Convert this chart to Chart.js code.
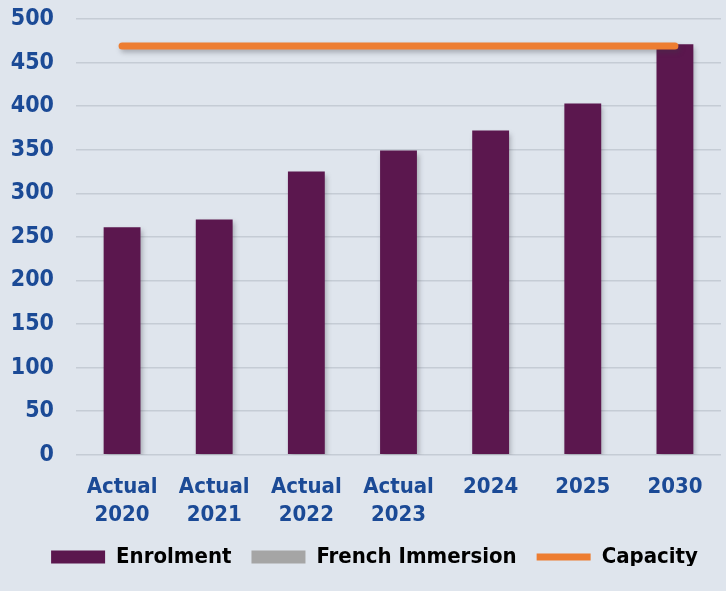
<!DOCTYPE html>
<html lang="en">
<head>
<meta charset="UTF-8">
<title>Enrolment</title>
<script src="https://cdn.jsdelivr.net/npm/chart.js@4.4.1/dist/chart.umd.min.js"></script>
<style>
  html, body { margin: 0; padding: 0; background: #dfe5ed; }
  #wrap { width: 726px; height: 591px; }
</style>
</head>
<body>
<div id="wrap"><canvas id="chart" width="726" height="591"></canvas></div>
<script>
// data
const years = [['Actual', '2020'], ['Actual', '2021'], ['Actual', '2022'], ['Actual', '2023'], '2024', '2025', '2030'];
const enrolment = [261, 270, 325, 349, 372, 403, 471];
const frenchImmersion = [];
const capacity = [469, 469, 469, 469, 469, 469, 469];
const legendOrder = ['Enrolment', 'French Immersion', 'Capacity'];

const labelFont = "'DejaVu Sans Condensed', 'Liberation Sans Narrow', sans-serif";

// soft shadow under bars and the capacity line; legend spacing tweaked after layout
const extrasPlugin = {
    id: 'extras',
    afterLayout(chart) {
        const lg = chart.legend;
        if (!lg) return;
        lg.options.labels.padding = 20;   // wider gaps between items, box size kept from layout
        lg.left -= 44;                    // widened both ways so the row does not wrap
        lg.right += 36;
        lg.top -= 14;
        lg.bottom -= 14;
    },
    beforeDatasetDraw(chart) {
        const c = chart.ctx;
        c.save();
        c.shadowColor = 'rgba(60,60,70,0.35)';
        c.shadowBlur = 5;
        c.shadowOffsetX = 2;
        c.shadowOffsetY = 3;
    },
    afterDatasetDraw(chart) {
        chart.ctx.restore();
    }
};

const ctx = document.getElementById('chart').getContext('2d');
new Chart(ctx, {
    data: {
        labels: years,
        datasets: [{
            type: 'line',
            label: 'Capacity',
            data: capacity,
            borderColor: '#ed7d31',
            backgroundColor: '#ed7d31',
            borderWidth: 7,
            borderCapStyle: 'round',
            pointRadius: 0,
            pointStyle: 'line',
            order: 0
        }, {
            type: 'bar',
            label: 'Enrolment',
            data: enrolment,
            backgroundColor: '#5b174e',
            grouped: false,
            pointStyle: 'rect',
            order: 1
        }, {
            type: 'bar',
            label: 'French Immersion',
            data: frenchImmersion,
            backgroundColor: '#a5a5a5',
            grouped: false,
            pointStyle: 'rect',
            order: 2
        }]
    },
    options: {
        responsive: false,
        animation: false,
        layout: { padding: { top: 0, right: 5, left: 0, bottom: 11 } },
        datasets: { bar: { barPercentage: 0.4, categoryPercentage: 1 } },
        scales: {
            x: {
                grid: { display: false },
                border: { display: false },
                ticks: {
                    color: '#1b4a96',
                    padding: 10,
                    maxRotation: 0,
                    autoSkip: false,
                    font: { family: labelFont, size: 22, weight: 'bold', lineHeight: 1.3 }
                }
            },
            y: {
                min: 0,
                max: 500,
                afterFit(scale) {
                    scale.width = 76;
                    scale.paddingTop = 19;
                    scale.paddingBottom = 14;
                },
                grid: { color: '#c5ccd5', lineWidth: 1.5, drawTicks: false },
                border: { display: false },
                ticks: {
                    stepSize: 50,
                    autoSkip: false,
                    color: '#1b4a96',
                    padding: 22,
                    font: { family: labelFont, size: 23, weight: 'bold' }
                }
            }
        },
        plugins: {
            legend: {
                position: 'bottom',
                labels: {
                    sort: (a, b) => legendOrder.indexOf(a.text) - legendOrder.indexOf(b.text),
                    usePointStyle: true,
                    pointStyleWidth: 54,
                    boxHeight: 13,
                    padding: 8,
                    color: '#000',
                    font: { family: labelFont, size: 22, weight: 'bold' }
                }
            },
            tooltip: { enabled: false }
        }
    },
    plugins: [extrasPlugin]
});
</script>
</body>
</html>
